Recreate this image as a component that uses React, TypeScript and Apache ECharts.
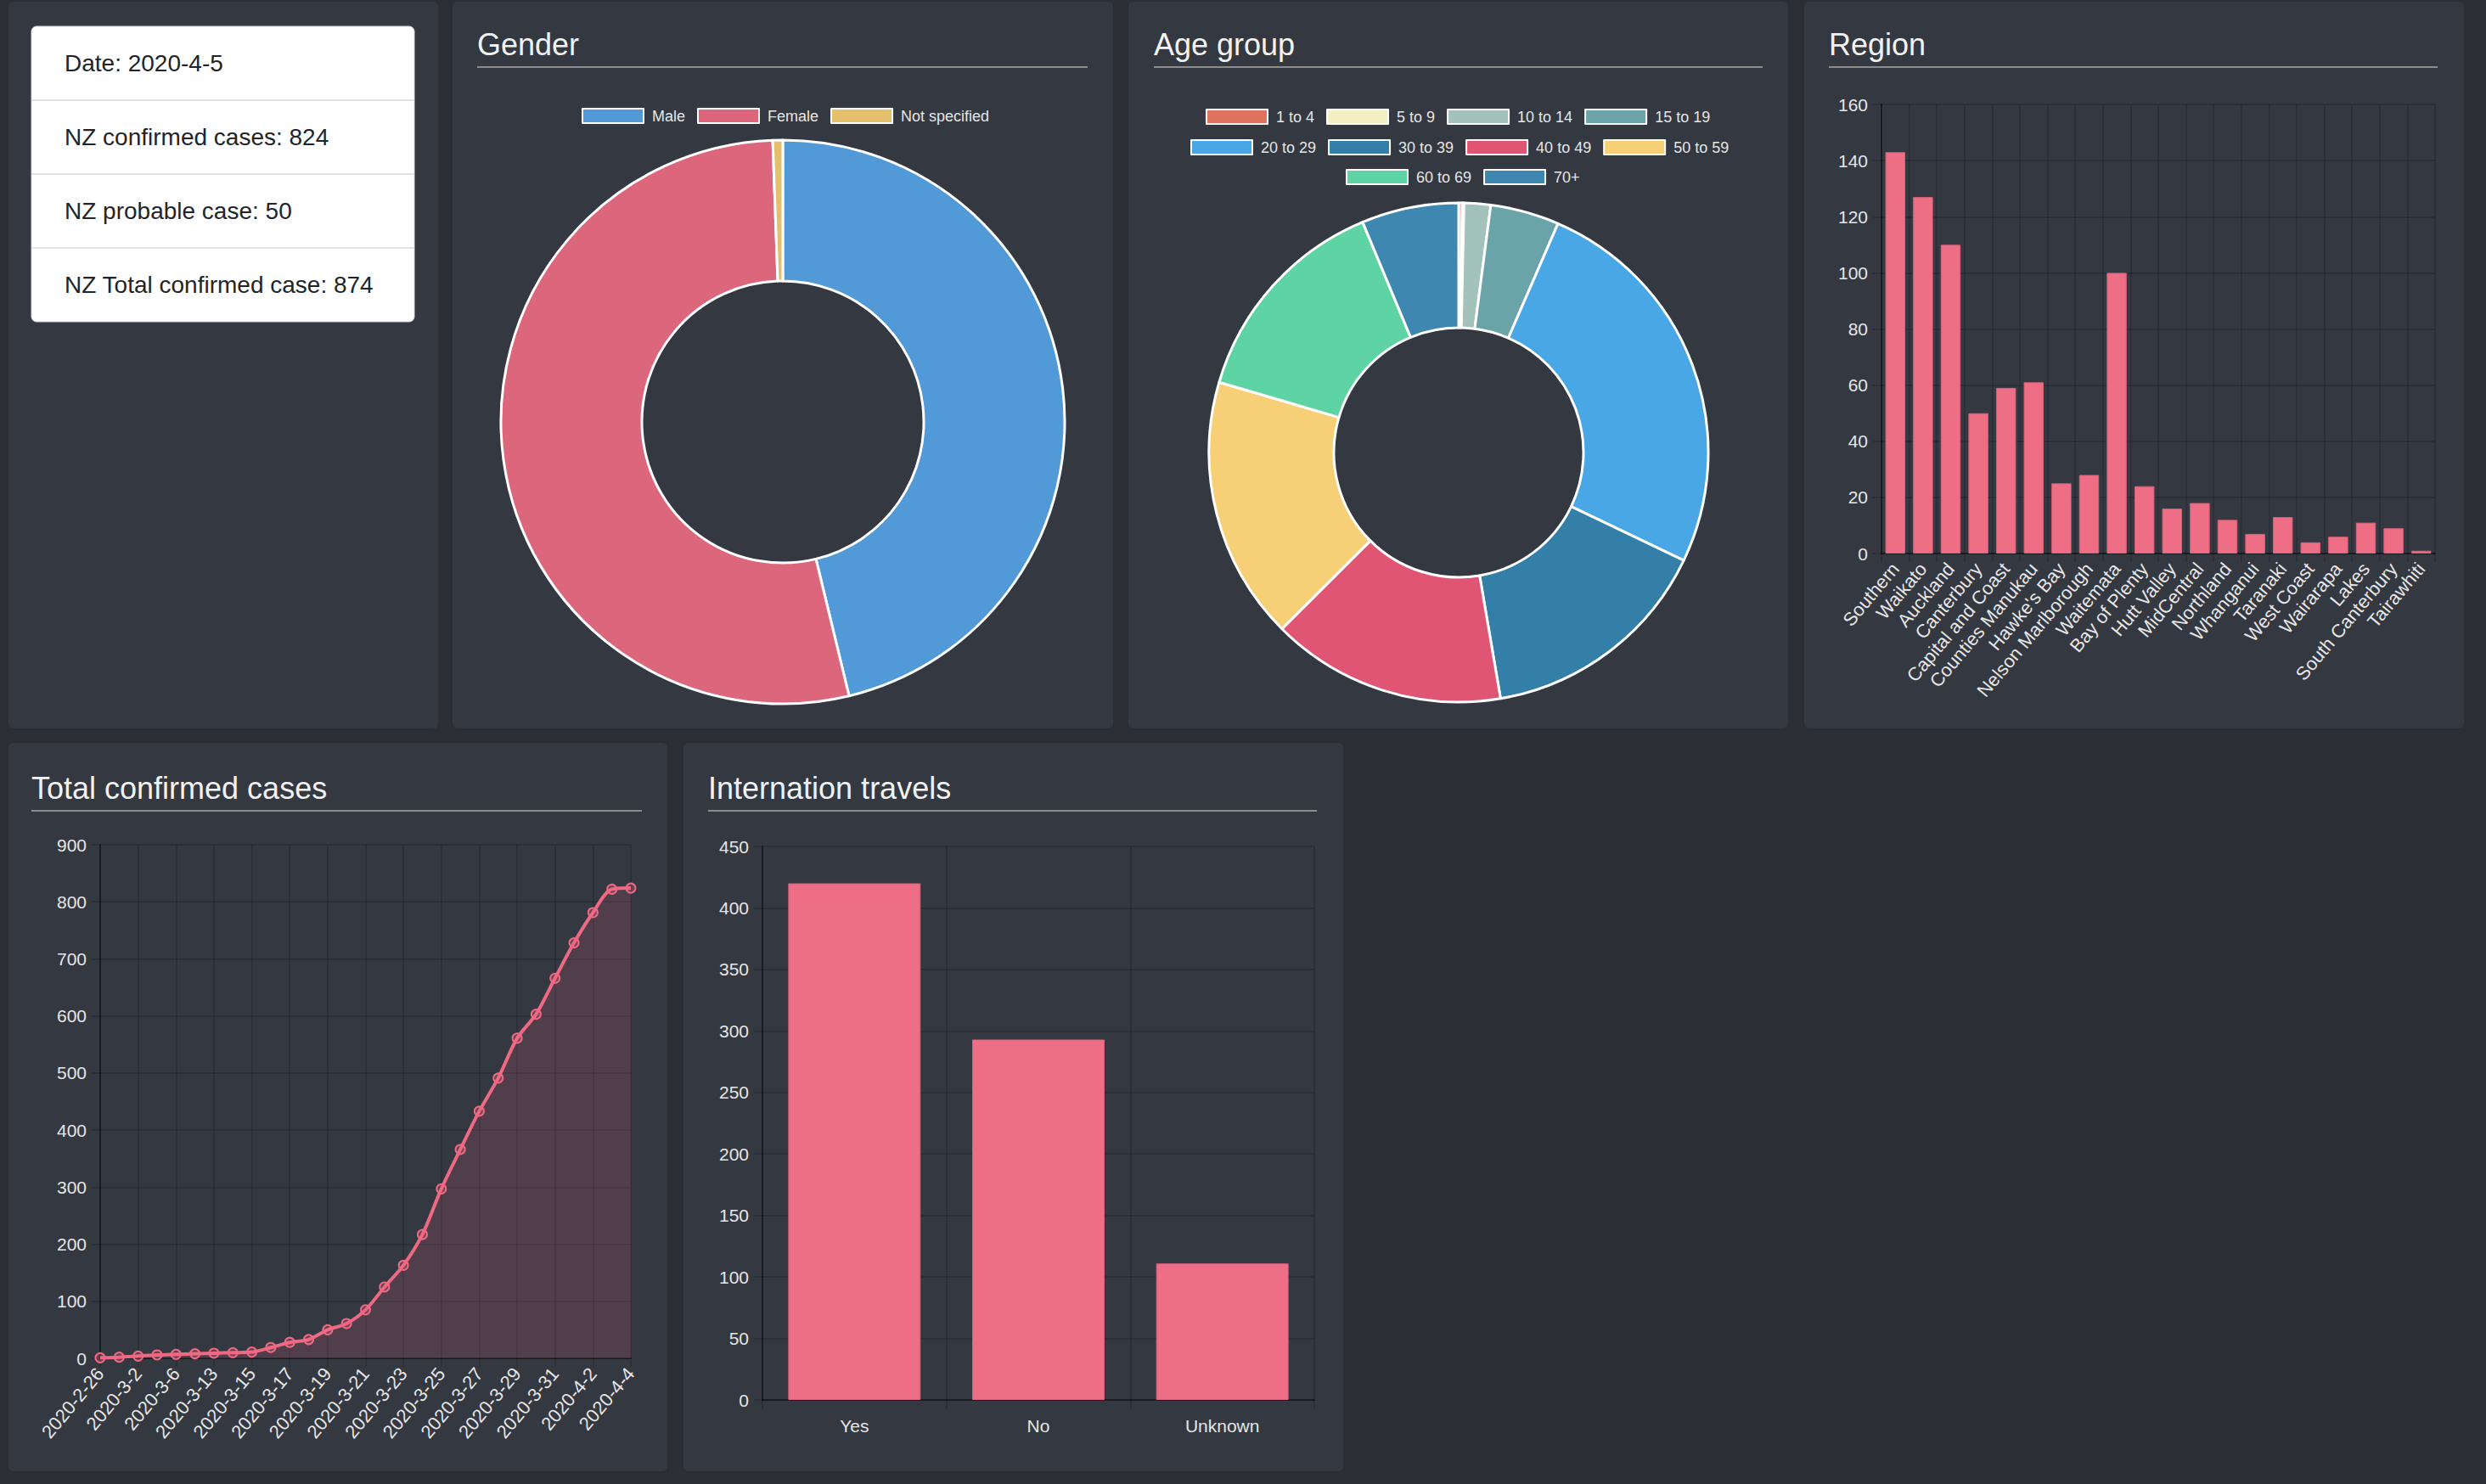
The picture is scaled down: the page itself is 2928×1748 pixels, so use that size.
import React, { useEffect, useRef } from "react";
import * as echarts from "echarts";

const infoLines = [
  "Date: 2020-4-5",
  "NZ confirmed cases: 824",
  "NZ probable case: 50",
  "NZ Total confirmed case: 874",
];

const genderNames = ["Male", "Female", "Not specified"];
const genderValues = [404, 465, 5];
const genderColors = ["#5199d7", "#dc677d", "#e4c06d"];

const ageNames = ["1 to 4", "5 to 9", "10 to 14", "15 to 19", "20 to 29", "30 to 39", "40 to 49", "50 to 59", "60 to 69", "70+"];
const ageValues = [2, 1, 15, 39, 224, 133, 133, 149, 124, 55];
const ageColors = ["#e07260", "#f5f0c4", "#a3c2bc", "#6aa3a8", "#48a7e4", "#347fa8", "#e05573", "#f6cf76", "#5ed3a3", "#3d87b0"];
const ageLegendRows = [
  ["1 to 4", "5 to 9", "10 to 14", "15 to 19"],
  ["20 to 29", "30 to 39", "40 to 49", "50 to 59"],
  ["60 to 69", "70+"],
];

const regionNames = ["Southern", "Waikato", "Auckland", "Canterbury", "Capital and Coast", "Counties Manukau", "Hawke's Bay", "Nelson Marlborough", "Waitemata", "Bay of Plenty", "Hutt Valley", "MidCentral", "Northland", "Whanganui", "Taranaki", "West Coast", "Wairarapa", "Lakes", "South Canterbury", "Tairawhiti"];
const regionValues = [143, 127, 110, 50, 59, 61, 25, 28, 100, 24, 16, 18, 12, 7, 13, 4, 6, 11, 9, 1];
const regionTicks = { min: 0, max: 160, interval: 20 };

const travelNames = ["Yes", "No", "Unknown"];
const travelValues = [420, 293, 111];
const travelTicks = { min: 0, max: 450, interval: 50 };

const caseDates = ["2020-2-26", "2020-2-28", "2020-3-2", "2020-3-4", "2020-3-6", "2020-3-7", "2020-3-13", "2020-3-14", "2020-3-15", "2020-3-16", "2020-3-17", "2020-3-18", "2020-3-19", "2020-3-20", "2020-3-21", "2020-3-22", "2020-3-23", "2020-3-24", "2020-3-25", "2020-3-26", "2020-3-27", "2020-3-28", "2020-3-29", "2020-3-30", "2020-3-31", "2020-4-1", "2020-4-2", "2020-4-3", "2020-4-4"];
const caseValues = [1, 2, 4, 6, 7, 8, 9, 10, 11, 19, 28, 33, 50, 61, 85, 125, 163, 217, 297, 366, 433, 491, 561, 603, 666, 728, 781, 822, 824];
const caseTicks = { min: 0, max: 900, interval: 100 };

const FONT = "'Liberation Sans', Arial, Helvetica, sans-serif";
const PAGE_BG = "#2b2e35";
const PANEL_BG = "#343841";
const BAR = "#ee6e85";
const LABEL = "#e6e6e6";
const GRIDLINE = "rgba(0,0,0,0.13)";
const AXISLINE = "rgba(0,0,0,0.4)";

export default function App() {
  const ref = useRef<HTMLDivElement>(null);

  useEffect(() => {
    document.body.style.margin = "0";
    document.body.style.background = PAGE_BG;
    const chart = echarts.init(ref.current!, null, { renderer: "svg" });

    const panels = [
      [10, 2, 506, 856],
      [533, 2, 778, 856],
      [1329, 2, 777, 856],
      [2125, 2, 777, 856],
      [10, 875, 776, 858],
      [805, 875, 777, 858],
    ];
    const titles: [string, number, number, number][] = [
      ["Gender", 562, 52, 1281],
      ["Age group", 1359, 52, 2076],
      ["Region", 2154, 52, 2871],
      ["Total confirmed cases", 37, 928, 756],
      ["Internation travels", 834, 928, 1551],
    ];

    const graphics: any[] = [];
    panels.forEach(([x, y, w, h]) =>
      graphics.push({ type: "rect", z: -5, silent: true, shape: { x, y, width: w, height: h, r: 6 }, style: { fill: PANEL_BG } })
    );
    titles.forEach(([t, x, y, x2]) => {
      graphics.push({ type: "text", z: 5, x, y, style: { text: t, fill: "#f2f2f2", fontSize: 36, fontFamily: FONT, verticalAlign: "middle", align: "left" } });
      graphics.push({ type: "line", z: 5, shape: { x1: x, y1: y + 27, x2, y2: y + 27 }, style: { stroke: "#8c8c8c", lineWidth: 2 } });
    });
    // info card
    const cardTop = 31, cardBottom = 379, cardLeft = 37, cardRight = 488;
    const rowH = (cardBottom - cardTop) / infoLines.length;
    graphics.push({ type: "rect", z: 1, shape: { x: cardLeft, y: cardTop, width: cardRight - cardLeft, height: cardBottom - cardTop, r: 6 }, style: { fill: "#ffffff", stroke: "#d8d8d8", lineWidth: 1 } });
    infoLines.forEach((t, i) => {
      if (i > 0) {
        graphics.push({ type: "line", z: 2, shape: { x1: cardLeft, y1: cardTop + rowH * i, x2: cardRight, y2: cardTop + rowH * i }, style: { stroke: "#dfe2e6", lineWidth: 2 } });
      }
      graphics.push({ type: "text", z: 3, x: 76, y: cardTop + rowH * i + rowH / 2, style: { text: t, fill: "#212529", fontSize: 28, fontFamily: FONT, verticalAlign: "middle", align: "left" } });
    });

    const catAxis = (gridIndex: number, data: string[], extra: any) => ({
      type: "category",
      gridIndex,
      data,
      axisLine: { show: true, lineStyle: { color: AXISLINE, width: 2 } },
      axisTick: { show: true, length: 10, lineStyle: { color: GRIDLINE, width: 2 }, ...(extra.axisTick || {}) },
      splitLine: { show: true, lineStyle: { color: GRIDLINE, width: 2 }, ...(extra.splitLine || {}) },
      axisLabel: { color: LABEL, fontSize: 21, fontFamily: FONT, ...(extra.axisLabel || {}) },
      boundaryGap: extra.boundaryGap,
    });
    const valAxis = (gridIndex: number, t: { min: number; max: number; interval: number }) => ({
      type: "value",
      gridIndex,
      min: t.min,
      max: t.max,
      interval: t.interval,
      axisLine: { show: true, lineStyle: { color: AXISLINE, width: 2 } },
      axisTick: { show: true, length: 10, lineStyle: { color: GRIDLINE, width: 2 } },
      splitLine: { show: true, lineStyle: { color: GRIDLINE, width: 2 } },
      axisLabel: { color: LABEL, fontSize: 21, fontFamily: FONT, margin: 16 },
    });

    const legendBase = {
      orient: "horizontal",
      icon: "rect",
      itemWidth: 72,
      itemHeight: 17,
      itemGap: 14,
      selectedMode: false,
      textStyle: { color: LABEL, fontSize: 18, fontFamily: FONT, padding: [0, 0, 0, 5] },
    };

    const option: any = {
      animation: false,
      backgroundColor: PAGE_BG,
      graphic: { elements: graphics },
      legend: [
        { ...legendBase, data: genderNames, left: 680, top: 122 },
        { ...legendBase, data: ageLegendRows[0], left: 1415, top: 123 },
        { ...legendBase, data: ageLegendRows[1], left: 1397, top: 159 },
        { ...legendBase, data: ageLegendRows[2], left: 1580, top: 194 },
      ],
      grid: [
        { left: 118, top: 995, width: 625, height: 605 },
        { left: 898, top: 997, width: 650, height: 652 },
        { left: 2216, top: 123, width: 652, height: 529 },
      ],
      xAxis: [
        catAxis(0, caseDates, {
          boundaryGap: false,
          axisTick: { interval: 1 },
          splitLine: { interval: 1 },
          axisLabel: { interval: 1, rotate: 50, margin: 14, fontSize: 22 },
        }),
        catAxis(1, travelNames, { boundaryGap: true, axisLabel: { interval: 0, margin: 20 } }),
        catAxis(2, regionNames, { boundaryGap: true, axisLabel: { interval: 0, rotate: 50, margin: 14, fontSize: 22 } }),
      ],
      yAxis: [valAxis(0, caseTicks), valAxis(1, travelTicks), valAxis(2, regionTicks)],
      series: [
        {
          type: "line",
          xAxisIndex: 0,
          yAxisIndex: 0,
          data: caseValues,
          smooth: 0.3,
          symbol: "circle",
          symbolSize: 11,
          showAllSymbol: true,
          lineStyle: { color: "#ee6a84", width: 4 },
          itemStyle: { color: "rgba(255,99,132,0.25)", borderColor: "#ee6a84", borderWidth: 2 },
          areaStyle: { color: "rgba(255,99,132,0.2)" },
        },
        {
          type: "bar",
          xAxisIndex: 1,
          yAxisIndex: 1,
          data: travelValues,
          barWidth: "72%",
          itemStyle: { color: BAR, borderColor: "#d4607a", borderWidth: 1 },
        },
        {
          type: "bar",
          xAxisIndex: 2,
          yAxisIndex: 2,
          data: regionValues,
          barWidth: "72%",
          itemStyle: { color: BAR, borderColor: "#d4607a", borderWidth: 1 },
        },
        {
          type: "pie",
          center: [922, 497],
          radius: [166, 332],
          startAngle: 90,
          clockwise: true,
          label: { show: false },
          labelLine: { show: false },
          itemStyle: { borderColor: "#ffffff", borderWidth: 3 },
          data: genderNames.map((n, i) => ({ name: n, value: genderValues[i], itemStyle: { color: genderColors[i] } })),
        },
        {
          type: "pie",
          center: [1718, 533],
          radius: [147, 294],
          startAngle: 90,
          clockwise: true,
          minAngle: 0,
          label: { show: false },
          labelLine: { show: false },
          itemStyle: { borderColor: "#ffffff", borderWidth: 3 },
          data: ageNames.map((n, i) => ({ name: n, value: ageValues[i], itemStyle: { color: ageColors[i] } })),
        },
      ],
    };

    chart.setOption(option);
    return () => chart.dispose();
  }, []);

  return <div ref={ref} style={{ position: "absolute", left: 0, top: 0, width: 2928, height: 1748 }} />;
}
